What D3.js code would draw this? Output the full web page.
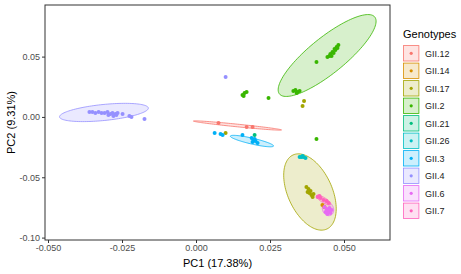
<!DOCTYPE html>
<html>
<head>
<meta charset="utf-8">
<script src="https://cdn.jsdelivr.net/npm/d3@7"></script>
<style>
  body { margin: 0; background: #fff; }
  text { font-family: "Liberation Sans", Arial, sans-serif; }
</style>
</head>
<body>
<div id="chart"></div>
<script>
// genotypes + ggplot hue colours
var genotypes = ["GII.12", "GII.14", "GII.17", "GII.2", "GII.21", "GII.26", "GII.3", "GII.4", "GII.6", "GII.7"];
var colors = ["#F8766D", "#D89000", "#A3A500", "#39B600", "#00BF7D", "#00BFC4", "#00B0F6", "#9590FF", "#E76BF3", "#FF62BC"];

var xTicks = [-0.050, -0.025, 0.000, 0.025, 0.050];
var yTicks = [-0.10, -0.05, 0.00, 0.05];

// points
var ptGroup = [
  "GII.4","GII.4","GII.4","GII.4","GII.4","GII.4","GII.4","GII.4","GII.4","GII.4","GII.4","GII.4","GII.4","GII.4","GII.4","GII.4","GII.4","GII.4","GII.4",
  "GII.12","GII.12","GII.12",
  "GII.17","GII.17","GII.17","GII.17","GII.17","GII.17","GII.17","GII.17","GII.17","GII.17","GII.17",
  "GII.2","GII.2","GII.2","GII.2","GII.2","GII.2","GII.2","GII.2","GII.2","GII.2","GII.2","GII.2",
  "GII.2","GII.2","GII.2","GII.2","GII.2","GII.2","GII.2","GII.2","GII.2","GII.2","GII.2",
  "GII.21",
  "GII.26","GII.26","GII.26","GII.26","GII.26",
  "GII.3","GII.3","GII.3","GII.3","GII.3","GII.3","GII.3","GII.3","GII.3","GII.3",
  "GII.7","GII.7","GII.7","GII.7","GII.7","GII.7",
  "GII.14","GII.14",
  "GII.6","GII.6","GII.6","GII.6","GII.6","GII.6","GII.6","GII.6"
];
var ptPC1 = [
  -0.0360,-0.0350,-0.0340,-0.0329,-0.0319,-0.0309,-0.0299,-0.0289,-0.0282,-0.0272,-0.0265,-0.0248,-0.0225,-0.0218,-0.0174,0.0100,-0.0296,-0.0279,-0.0269,
  0.0076,0.0171,0.0191,
  0.0373,0.0380,0.0387,0.0383,0.0390,0.0394,0.0377,0.0397,0.0365,0.0360,0.0100,
  0.0444,0.0454,0.0461,0.0468,0.0475,0.0481,0.0451,0.0465,0.0471,0.0478,0.0458,0.0407,
  0.0329,0.0336,0.0343,0.0350,0.0340,0.0157,0.0164,0.0171,0.0161,0.0245,0.0407,
  0.0198,
  0.0350,0.0356,0.0363,0.0370,0.0360,
  0.0063,0.0083,0.0090,0.0157,0.0188,0.0194,0.0201,0.0208,0.0191,0.0198,
  0.0411,0.0421,0.0431,0.0441,0.0448,0.0417,
  0.0427,0.0434,
  0.0434,0.0441,0.0448,0.0454,0.0444,0.0438,0.0451,0.0458
];
var ptPC2 = [
  0.0041,0.0041,0.0032,0.0041,0.0032,0.0032,0.0041,0.0024,0.0032,0.0024,0.0032,0.0024,0.0008,-0.0001,-0.0017,0.0331,0.0016,0.0008,0.0016,
  -0.0051,-0.0084,-0.0084,
  -0.0581,-0.0597,-0.0614,-0.0631,-0.0647,-0.0664,-0.0622,-0.0639,0.0132,0.0090,-0.0133,
  0.0496,0.0521,0.0538,0.0563,0.0579,0.0596,0.0505,0.0529,0.0554,0.0571,0.0505,0.0455,
  0.0215,0.0224,0.0207,0.0215,0.0199,0.0182,0.0199,0.0207,0.0173,0.0157,-0.0183,
  -0.0150,
  -0.0332,-0.0332,-0.0332,-0.0341,-0.0324,
  -0.0133,-0.0142,-0.0150,-0.0150,-0.0175,-0.0191,-0.0200,-0.0216,-0.0208,-0.0183,
  -0.0664,-0.0672,-0.0689,-0.0697,-0.0713,-0.0655,
  -0.0730,-0.0747,
  -0.0747,-0.0763,-0.0780,-0.0796,-0.0805,-0.0788,-0.0755,-0.0771
];

// confidence ellipses: centre plus two conjugate semi-diameters (data units)
var ellGroup = ["GII.4", "GII.2", "GII.17", "GII.12", "GII.3", "GII.6", "GII.7"];
var ellCx = [-0.0311, 0.0443, 0.0385, 0.0140, 0.0189, 0.0446, 0.0431];
var ellCy = [0.0037, 0.0509, -0.0622, -0.0071, -0.0200, -0.0763, -0.0689];
var ellAx = [0.0150, 0.0161, 0.0057, 0.0149, 0.0073, 0.0007, 0.0024];
var ellAy = [0.0037, 0.0319, -0.0307, -0.0037, -0.0041, -0.0054, -0.0037];
var ellBx = [0.0003, 0.0038, 0.0068, 0.0000, -0.0002, 0.0018, -0.0005];
var ellBy = [-0.0066, -0.0116, 0.0076, -0.0011, -0.0024, 0.0013, -0.0017];

var width = 461, height = 274;
var panel = {left: 45, right: 390, top: 5, bottom: 240};

var color = d3.scaleOrdinal().domain(genotypes).range(colors);

var x = d3.scaleLinear().domain([-0.05, 0.05]).range([48, 344]);
var y = d3.scaleLinear().domain([-0.10, 0.05]).range([237.6, 56.6]);

var svg = d3.select("#chart").append("svg")
    .attr("width", width)
    .attr("height", height);

var plot = svg.append("g");

// ellipses
var line = d3.line().x(d => x(d[0])).y(d => y(d[1])).curve(d3.curveLinearClosed);
ellGroup.forEach(function(g, i) {
    var pts = d3.range(120).map(function(k) {
        var t = k / 120 * 2 * Math.PI;
        return [ellCx[i] + ellAx[i] * Math.cos(t) + ellBx[i] * Math.sin(t),
                ellCy[i] + ellAy[i] * Math.cos(t) + ellBy[i] * Math.sin(t)];
    });
    plot.append("path")
        .attr("d", line(pts))
        .attr("fill", color(g))
        .attr("fill-opacity", 0.2)
        .attr("stroke", color(g))
        .attr("stroke-width", 0.8);
});

// points
plot.selectAll("circle.pt")
    .data(d3.range(ptGroup.length))
    .enter()
    .append("circle")
    .attr("class", "pt")
    .attr("cx", i => x(ptPC1[i]))
    .attr("cy", i => y(ptPC2[i]))
    .attr("r", 2)
    .attr("fill", i => color(ptGroup[i]));

// panel border
svg.append("rect")
    .attr("x", panel.left).attr("y", panel.top)
    .attr("width", panel.right - panel.left)
    .attr("height", panel.bottom - panel.top)
    .attr("fill", "none")
    .attr("stroke", "#333333")
    .attr("stroke-width", 1);

// axes
var xAxis = svg.append("g")
    .attr("transform", "translate(0," + panel.bottom + ")")
    .call(d3.axisBottom(x).tickValues(xTicks).tickFormat(d3.format(".3f")).tickSize(3).tickPadding(2));
var yAxis = svg.append("g")
    .attr("transform", "translate(" + panel.left + ",0)")
    .call(d3.axisLeft(y).tickValues(yTicks).tickFormat(d3.format(".2f")).tickSize(3).tickPadding(2));

[xAxis, yAxis].forEach(function(a) {
    a.select(".domain").remove();
    a.selectAll(".tick line").attr("stroke", "#333333");
    a.selectAll(".tick text")
        .attr("fill", "#4d4d4d")
        .style("font-size", "9px")
        .style("font-family", "Liberation Sans, Arial, sans-serif");
});
xAxis.selectAll(".tick text").text(d => d3.format(".3f")(d).replace("−", "-"));
yAxis.selectAll(".tick text").text(d => d3.format(".2f")(d).replace("−", "-"));

// axis titles
svg.append("text")
    .attr("x", (panel.left + panel.right) / 2)
    .attr("y", 267)
    .attr("text-anchor", "middle")
    .attr("font-size", "11px")
    .attr("fill", "#000")
    .text("PC1 (17.38%)");

svg.append("text")
    .attr("transform", "translate(15," + (panel.top + panel.bottom) / 2 + ") rotate(-90)")
    .attr("text-anchor", "middle")
    .attr("font-size", "11px")
    .attr("fill", "#000")
    .text("PC2 (9.31%)");

// legend
var legend = svg.append("g").attr("transform", "translate(403,0)");
legend.append("text")
    .attr("x", 0).attr("y", 38)
    .attr("font-size", "11px")
    .attr("fill", "#000")
    .text("Genotypes");

var keys = legend.selectAll("g.key")
    .data(genotypes)
    .enter()
    .append("g")
    .attr("class", "key")
    .attr("transform", (d, i) => "translate(0," + (53.3 + i * 17.5) + ")");

keys.append("rect")
    .attr("x", 0.5).attr("y", -7.7)
    .attr("width", 15.4).attr("height", 15.4)
    .attr("fill", d => color(d))
    .attr("fill-opacity", 0.2)
    .attr("stroke", d => color(d))
    .attr("stroke-width", 0.8);

keys.append("circle")
    .attr("cx", 8.2).attr("cy", 0)
    .attr("r", 1.6)
    .attr("fill", d => color(d));

keys.append("text")
    .attr("x", 22).attr("y", 3.3)
    .attr("font-size", "9px")
    .attr("fill", "#1a1a1a")
    .text(d => d);
</script>
</body>
</html>
